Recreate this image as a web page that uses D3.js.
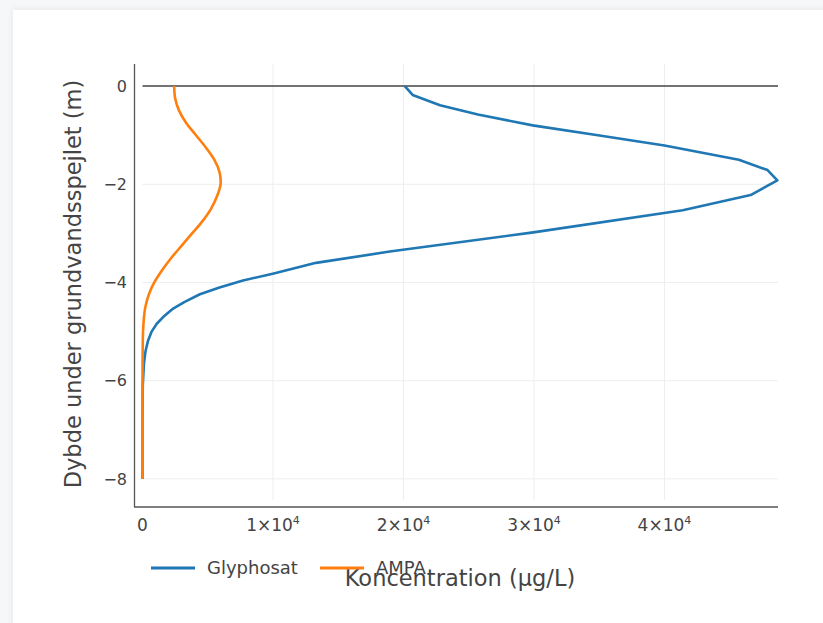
<!DOCTYPE html>
<html>
<head>
<meta charset="utf-8">
<script src="https://cdn.jsdelivr.net/npm/d3@7"></script>
<style>
  html, body { margin: 0; padding: 0; background: #f6f7f9; }
  svg { display: block; }
  text { font-family: "DejaVu Sans", Verdana, sans-serif; fill: #444; }
</style>
</head>
<body>
<svg id="chart" width="823" height="623"></svg>
<script>
// ---- data ----
const glyDepth = [0, -0.18, -0.39, -0.58, -0.8, -1.0, -1.21, -1.5, -1.71, -1.92, -2.22, -2.53, -2.98, -3.37, -3.6, -3.82, -3.96, -4.1, -4.24, -4.4, -4.53, -4.7, -4.84, -5.0, -5.18, -5.4, -5.65, -6.1, -7.0, -8.0];
const glyValue = [20100, 20700, 22800, 25700, 29900, 34900, 40000, 45700, 47900, 48650, 46600, 41400, 29950, 18950, 13300, 9980, 7700, 5900, 4400, 3200, 2350, 1600, 1090, 700, 430, 230, 110, 20, 0, 0];

const ampaDepth = [0, -0.25, -0.5, -0.75, -1.0, -1.25, -1.5, -1.75, -2.0, -2.25, -2.5, -2.75, -3.0, -3.25, -3.5, -3.75, -4.0, -4.25, -4.5, -4.75, -5.0, -5.5, -6.0, -7.0, -8.0];
const ampaValue = [2430, 2500, 2800, 3350, 4100, 4850, 5500, 5900, 5980, 5700, 5250, 4600, 3800, 3000, 2200, 1500, 900, 480, 220, 100, 40, 10, 0, 0, 0];

const seriesNames = ["Glyphosat", "AMPA"];
const seriesColors = ["#1f77b4", "#ff7f0e"];
const xTicks = [0, 10000, 20000, 30000, 40000];
const yTicks = [0, -2, -4, -6, -8];
const xTitle = "Koncentration (μg/L)";
const yTitle = "Dybde under grundvandsspejlet (m)";

// ---- layout ----
const svg = d3.select("#chart");
// card
svg.append("rect").attr("x", 13).attr("y", 10).attr("width", 830).attr("height", 630)
   .attr("fill", "#fff").style("filter", "drop-shadow(0 0 3px rgba(0,0,0,0.08))");

const x = d3.scaleLinear().domain([0, 48700]).range([142.5, 778]);
const y = d3.scaleLinear().domain([0.45, -8.43]).range([64, 500]);

// grid
const g = svg.append("g");
g.selectAll("line.vgrid").data(xTicks.filter(d => d !== 0)).join("line")
  .attr("x1", d => x(d)).attr("x2", d => x(d)).attr("y1", 64).attr("y2", 500)
  .attr("stroke", "#eee").attr("stroke-width", 1);
g.selectAll("line.hgrid").data(yTicks.filter(d => d !== 0)).join("line")
  .attr("x1", 142.5).attr("x2", 778).attr("y1", d => y(d)).attr("y2", d => y(d))
  .attr("stroke", "#eee").attr("stroke-width", 1);

// zero line
g.append("line").attr("x1", 142.5).attr("x2", 778).attr("y1", y(0)).attr("y2", y(0))
  .attr("stroke", "#444").attr("stroke-width", 1.5);

// series lines
const lineGly = d3.line().x(d => x(d[1])).y(d => y(d[0]));
const lineAmpa = d3.line().x(d => x(d[1])).y(d => y(d[0])).curve(d3.curveCatmullRom.alpha(0.5));
const glyData = glyDepth.map((d, i) => [d, glyValue[i]]);
const ampaData = ampaDepth.map((d, i) => [d, ampaValue[i]]);
g.append("path").attr("d", lineGly(glyData)).attr("fill", "none")
  .attr("stroke", seriesColors[0]).attr("stroke-width", 2.6).attr("stroke-linejoin", "round");
g.append("path").attr("d", lineAmpa(ampaData)).attr("fill", "none")
  .attr("stroke", seriesColors[1]).attr("stroke-width", 2.6).attr("stroke-linejoin", "round");

// axis lines
svg.append("line").attr("x1", 134.5).attr("x2", 134.5).attr("y1", 64).attr("y2", 507)
  .attr("stroke", "#555").attr("stroke-width", 1.3);
svg.append("line").attr("x1", 134).attr("x2", 778).attr("y1", 507).attr("y2", 507)
  .attr("stroke", "#555").attr("stroke-width", 1.3);

// y ticks labels
svg.selectAll("text.ytick").data(yTicks).join("text").attr("class", "ytick")
  .attr("x", 127).attr("y", d => y(d)).attr("dy", "0.36em")
  .attr("text-anchor", "end").style("font-size", "16px")
  .text(d => d === 0 ? "0" : "\u2212" + Math.abs(d));

// x ticks labels
const xt = svg.selectAll("text.xtick").data(xTicks).join("text").attr("class", "xtick")
  .attr("x", d => x(d)).attr("y", 531).attr("text-anchor", "middle").style("font-size", "17px");
xt.each(function(d) {
  const t = d3.select(this);
  if (d === 0) { t.text("0"); return; }
  t.append("tspan").text((d / 10000) + "\u00d710");
  t.append("tspan").attr("dy", -7).style("font-size", "11px").text("4");
});

// axis titles
svg.append("text").attr("x", 460).attr("y", 586).attr("text-anchor", "middle")
  .style("font-size", "22.5px").text(xTitle);
svg.append("text").attr("transform", "translate(81,284) rotate(-90)")
  .attr("text-anchor", "middle").style("font-size", "22.5px").text(yTitle);

// legend
const leg = svg.append("g");
const legX = [151, 320];
seriesNames.forEach((n, i) => {
  leg.append("line").attr("x1", legX[i]).attr("x2", legX[i] + 44).attr("y1", 568).attr("y2", 568)
    .attr("stroke", seriesColors[i]).attr("stroke-width", 3);
  leg.append("text").attr("x", legX[i] + 56).attr("y", 568).attr("dy", "0.35em")
    .style("font-size", "18px").text(n);
});
</script>
</body>
</html>
